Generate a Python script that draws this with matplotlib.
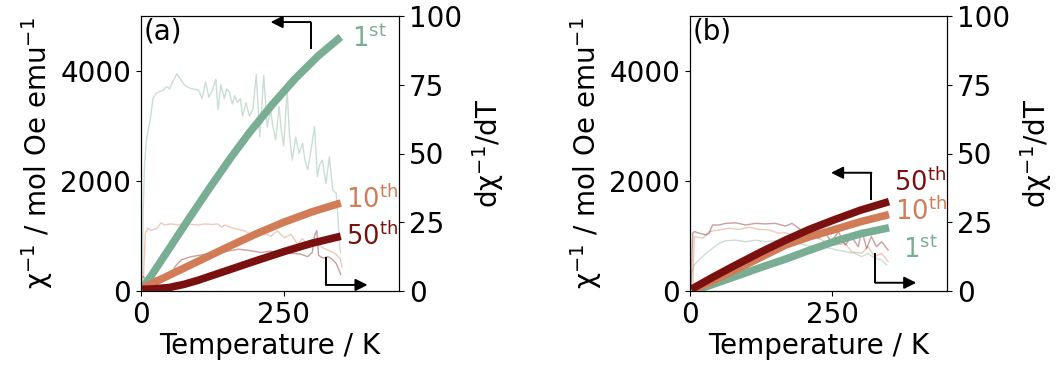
import matplotlib
matplotlib.use("Agg")
import matplotlib.pyplot as plt
import numpy as np

plt.rcParams['font.family'] = ['DejaVu Sans']
plt.rcParams['font.size'] = 20

GREEN = '#7aae94'
ORANGE = '#d27b57'
DARK = '#7a1010'

# ---------------- panel (a): inverse susceptibility ----------------
a_T_1 = [2, 20, 50, 83, 120, 157, 190, 230, 270, 310, 350]
a_chi_1 = [40, 310, 780, 1300, 1870, 2420, 2880, 3390, 3860, 4270, 4620]
a_T_10 = [3, 50, 100, 150, 200, 250, 300, 350]
a_chi_10 = [50, 290, 540, 790, 1030, 1250, 1440, 1600]
a_T_50 = [2, 25, 50, 75, 100, 150, 200, 250, 300, 350]
a_chi_50 = [30, 40, 65, 120, 195, 370, 545, 715, 870, 995]

# panel (a): derivatives
a_dT_1 = [2, 4, 6, 9, 12, 16, 21, 27, 33, 39, 45, 50, 54, 58, 62.5, 68, 72, 77,
          83, 89, 95, 101, 107, 113, 119, 125, 131, 135, 140, 146, 150, 154.5,
          160, 164, 169, 174, 178, 184, 190, 196, 202, 208, 211, 215, 221, 227,
          231, 236, 242, 246, 250, 256, 260, 265, 271, 277, 283, 287, 292, 298,
          304, 309, 313, 318, 324, 330, 336, 342, 345, 348, 350]
a_d_1 = [2, 30, 45, 54, 58, 62, 70, 72, 72.5, 73, 74.3, 73.5, 75.5, 77, 79, 77.5,
         76, 74.8, 74, 73.6, 73.3, 73, 70, 76, 70.5, 73, 77, 66, 75, 70, 73.5,
         72.5, 68, 71, 68.5, 70, 63.6, 68.5, 63.6, 66, 78.8, 56, 65, 78.5, 59.7,
         66, 60, 55, 67, 58, 52.7, 73, 57, 47.6, 56, 50, 53.7, 48, 44, 51.5,
         59.7, 41.6, 46, 47.6, 39, 48.8, 36.7, 35.5, 27, 16, 14]
a_dT_10 = [3.5, 7.5, 12, 17.6, 29, 35, 41, 53, 65, 76.6, 88, 100, 112, 123.6, 135,
           141, 147, 159, 170.5, 182, 192, 210, 227.6, 239, 251, 262.7, 274.5,
           283, 292, 301, 316, 328, 340, 349, 352]
a_d_10 = [0.4, 21, 22.8, 22, 23, 24.8, 24, 24.4, 24, 24.8, 24.2, 24, 24.4, 24.2,
          24.4, 23.2, 24, 23, 22.4, 21.8, 20.6, 21.2, 20, 21.8, 19.4, 20.6, 17,
          19, 16.7, 18.5, 16, 14.8, 13.6, 11.8, 8.8]
a_dT_50 = [3.5, 12, 23.5, 41, 53, 62, 70.4, 88, 105.6, 123.6, 147, 170.5, 188,
           210, 227, 245, 262, 280, 292, 300, 304, 308, 311, 318, 328, 335, 342,
           350]
a_d_50 = [5.2, 4, 4.6, 5.8, 6.5, 9.5, 11.3, 12.5, 13.1, 13.7, 14.3, 15.2, 14.8,
          14, 14.5, 13.5, 13.8, 13.4, 12.5, 14, 20, 22, 13, 12, 12.5, 11.5, 10, 6]

# ---------------- panel (b): inverse susceptibility ----------------
b_T_1 = [10, 40, 80, 125, 168, 210, 255, 300, 350]
b_chi_1 = [5, 120, 265, 430, 580, 740, 905, 1040, 1150]
b_T_10 = [5, 40, 80, 125, 168, 210, 255, 300, 350]
b_chi_10 = [10, 185, 385, 615, 835, 985, 1120, 1260, 1390]
b_T_50 = [2, 40, 80, 125, 168, 210, 255, 300, 350]
b_chi_50 = [30, 250, 470, 710, 925, 1120, 1300, 1470, 1625]

# panel (b): derivatives
b_dT_1 = [1.7, 3.5, 7.6, 16, 28, 39.6, 51, 63, 80, 98, 115, 133, 150, 168, 185,
          203, 220, 238, 255, 273, 290, 302, 313, 325, 337, 346]
b_d_1 = [1, 7, 9.5, 11.3, 13.7, 15.5, 17.3, 18.3, 18.5, 17.9, 18.5, 17.9, 18.3,
         17.3, 17.6, 16.7, 16.1, 15.9, 15.1, 14.3, 13.7, 12.5, 13.7, 11.9, 11.3,
         9.5]
b_dT_10 = [4.7, 7.6, 22, 34, 51, 69, 86, 104, 121, 139, 156, 168, 185, 203, 220,
           238, 255, 273, 284, 302, 313, 325, 337, 348.5]
b_d_10 = [0, 19.8, 19.2, 21.6, 22.2, 22.8, 22.4, 23.2, 22.4, 22.2, 21, 21.2,
          19.8, 19.2, 19.8, 17.9, 16.7, 17.3, 14.3, 13.7, 16.1, 12.5, 13.7, 10.7]
b_dT_50 = [1.7, 4.7, 7.6, 16.3, 28, 33.8, 39.6, 51, 63, 80, 98, 115, 133, 150,
           168, 179.5, 191, 203, 214, 226, 238, 249, 261, 273, 284, 296, 302,
           310.6, 319, 328, 337, 348.5]
b_d_50 = [1, 21, 21.6, 21, 20.4, 21, 24, 24, 24.6, 24.8, 24, 24.6, 24.4, 24.6,
          23.6, 24.6, 22.8, 21, 21.6, 19.2, 21, 17.9, 21.6, 16.7, 19.8, 16.1,
          22.2, 15.5, 19.8, 16.1, 17.9, 14.9]

cycle_labels = ['1$^{\\mathrm{st}}$', '10$^{\\mathrm{th}}$', '50$^{\\mathrm{th}}$']

fig = plt.figure(figsize=(10.63, 3.74), dpi=100)
W, H = 1063, 374
ax_a = fig.add_axes([141 / W, 1 - 291 / H, 258 / W, 275 / H])
ax_b = fig.add_axes([690 / W, 1 - 291 / H, 257 / W, 275 / H])


def arrow_path(ax, pts):
    """Draw an elbow arrow through pts, arrowhead at the last point."""
    xs, ys = zip(*pts)
    ax.plot(xs[:-1], ys[:-1], color='black', lw=1.4, solid_capstyle='butt')
    ax.annotate('', xy=pts[-1], xytext=pts[-2],
                arrowprops=dict(arrowstyle='-|>', color='black', lw=1.4,
                                mutation_scale=18, shrinkA=0, shrinkB=0))


def panel(ax, chi, deriv, tag, text_pos, up_arrow, down_arrow):
    twin = ax.twinx()
    colors = [GREEN, ORANGE, DARK]
    for (T, d), c in zip(deriv, colors):
        twin.plot(T, d, color=c, lw=1.0, alpha=0.4)
    for (T, v), c in zip(chi, colors):
        ax.plot(T, v, color=c, lw=5.5, solid_capstyle='butt')
    ax.set_zorder(twin.get_zorder() + 1)
    ax.patch.set_visible(False)

    ax.set_xlim(0, 452)
    ax.set_ylim(0, 5000)
    twin.set_ylim(0, 100)
    ax.set_xticks([0, 250])
    ax.set_yticks([0, 2000, 4000])
    twin.set_yticks([0, 25, 50, 75, 100])
    ax.set_xlabel('Temperature / K', labelpad=2)
    ax.set_ylabel('χ$^{-1}$ / mol Oe emu$^{-1}$', labelpad=4)
    twin.set_ylabel('dχ$^{-1}$/dT', labelpad=6)

    ax.text(0.01, 0.995, tag, transform=ax.transAxes, ha='left', va='top')
    for (x, y), lab, c in zip(text_pos, cycle_labels, colors):
        ax.text(x, y, lab, color=c, ha='left', va='center', fontsize=18.5)

    arrow_path(ax, up_arrow)
    arrow_path(twin, down_arrow)


panel(ax_a,
      [(a_T_1, a_chi_1), (a_T_10, a_chi_10), (a_T_50, a_chi_50)],
      [(a_dT_1, a_d_1), (a_dT_10, a_d_10), (a_dT_50, a_d_50)],
      '(a)',
      [(370, 4580), (360, 1660), (360, 990)],
      [(297, 4400), (297, 4890), (227, 4890)],
      [(324, 12.5), (324, 2.2), (397, 2.2)])

panel(ax_b,
      [(b_T_1, b_chi_1), (b_T_10, b_chi_10), (b_T_50, b_chi_50)],
      [(b_dT_1, b_d_1), (b_dT_10, b_d_10), (b_dT_50, b_d_50)],
      '(b)',
      [(374, 750), (360, 1440), (358, 1970)],
      [(319, 1662), (319, 2150), (248, 2150)],
      [(326, 13.8), (326, 3.0), (398, 3.0)])

fig.savefig('out.png', dpi=100)
